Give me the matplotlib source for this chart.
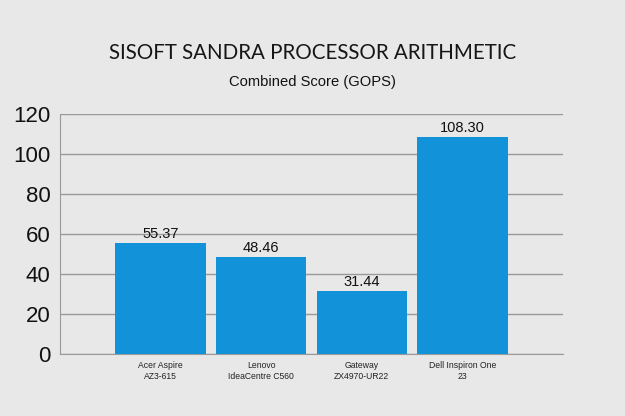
import numpy as np
import matplotlib.pyplot as plt

systems = ["Acer Aspire\nAZ3-615", "Lenovo\nIdeaCentre C560",
           "Gateway\nZX4970-UR22", "Dell Inspiron One\n23"]
scores = [55.37, 48.46, 31.44, 108.30]

bg = "#e8e8e9"
bar_color = "#1192d9"

fig = plt.figure(figsize=(6.25, 4.16), dpi=100, facecolor=bg)
ax = fig.add_axes([60 / 625, 1 - 354 / 416, 503 / 625, 240 / 416], facecolor=bg)

x = np.arange(len(systems))
ax.bar(x, scores, width=0.9, color=bar_color, zorder=3)
for xi, v in zip(x, scores):
    ax.text(xi, v + 1, f"{v:.2f}", ha="center", va="bottom",
            fontsize=10.5, family="Liberation Sans", color="#111111")

ax.set_xlim(-1, 4)
ax.set_ylim(0, 120)
ax.set_yticks(range(0, 121, 20))
ax.set_xticks(x)
ax.set_xticklabels(systems, fontsize=6.2, family="Liberation Sans",
                   color="#222222", linespacing=1.3)
for lbl in ax.get_yticklabels():
    lbl.set_fontsize(16)
    lbl.set_family("Liberation Sans")
    lbl.set_color("#111111")
ax.tick_params(axis="both", length=0)
ax.tick_params(axis="y", pad=7)
ax.tick_params(axis="x", pad=5)

ax.grid(axis="y", color="#9a9a9a", linewidth=1, zorder=0)
for side in ["top", "right"]:
    ax.spines[side].set_visible(False)
ax.spines["left"].set_color("#9a9a9a")
ax.spines["bottom"].set_color("#9a9a9a")

fig.text(0.5, 1 - 53 / 416, "SISOFT SANDRA PROCESSOR ARITHMETIC", ha="center",
         va="center", fontsize=14.8, family="Lato", color="#161616")
fig.text(0.5, 1 - 82 / 416, "Combined Score (GOPS)", ha="center",
         va="center", fontsize=10.6, family="Liberation Sans", color="#111111")

fig.savefig("out.png", dpi=100, facecolor=bg)
